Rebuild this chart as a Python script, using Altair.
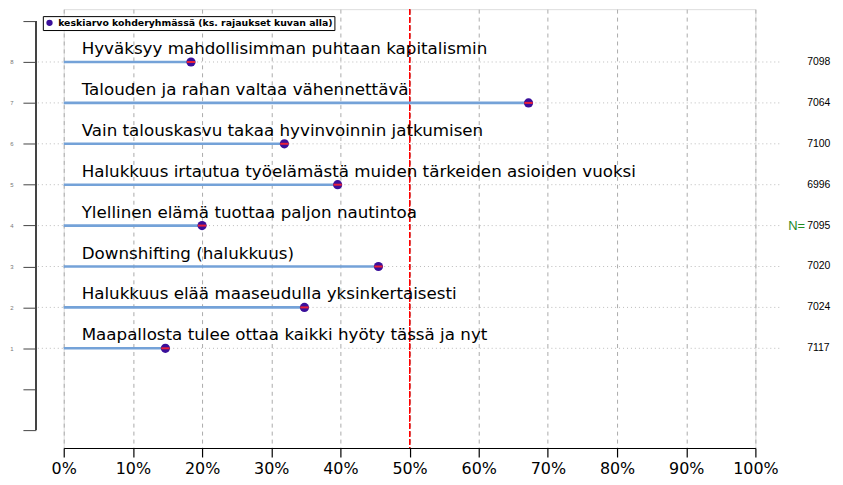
import altair as alt
import pandas as pd

labels = [
    "Hyväksyy mahdollisimman puhtaan kapitalismin",
    "Talouden ja rahan valtaa vähennettävä",
    "Vain talouskasvu takaa hyvinvoinnin jatkumisen",
    "Halukkuus irtautua työelämästä muiden tärkeiden asioiden vuoksi",
    "Ylellinen elämä tuottaa paljon nautintoa",
    "Downshifting (halukkuus)",
    "Halukkuus elää maaseudulla yksinkertaisesti",
    "Maapallosta tulee ottaa kaikki hyöty tässä ja nyt",
]
positions = [8, 7, 6, 5, 4, 3, 2, 1]
means = [0.184, 0.672, 0.319, 0.396, 0.200, 0.455, 0.348, 0.147]
ci_half = [0.006, 0.006, 0.006, 0.006, 0.006, 0.006, 0.006, 0.006]
n_values = [7098, 7064, 7100, 6996, 7095, 7020, 7024, 7117]
legend_label = "keskiarvo kohderyhmässä (ks. rajaukset kuvan alla)"
x_ticks = [i / 10 for i in range(11)]
y_ticks = list(range(-1, 10))

df = pd.DataFrame({
    "label": labels,
    "pos": positions,
    "mean": means,
    "lo": [m - c for m, c in zip(means, ci_half)],
    "hi": [m + c for m, c in zip(means, ci_half)],
    "n": [str(v) for v in n_values],
    "zero": [0.0] * len(means),
    "series": [legend_label] * len(means),
})

FONT = "Liberation Sans"
WIDE = "DejaVu Sans"
xscale = alt.Scale(domain=[0, 1], nice=False, zero=False)
yscale = alt.Scale(domain=[-1.438, 9.292], nice=False, zero=False)

base = alt.Chart(df)

x_axis = alt.Axis(
    values=x_ticks, format=".0%", grid=True, gridDash=[4, 4], gridColor="#aaaaaa",
    gridWidth=1, tickSize=9, tickColor="black", domainColor="black", labelFontSize=16,
    labelFont=WIDE, labelColor="black", labelPadding=4, title=None, domainWidth=1.2,
    tickWidth=1.2, labelFlush=False,
)
y_axis = alt.Axis(
    values=y_ticks, labelExpr="datum.value >= 1 && datum.value <= 8 ? datum.label : ''",
    grid=False, domain=False, tickSize=13, tickColor="#444444", offset=28,
    labelFontSize=6, labelColor="#777777", labelPadding=10, title=None, labelFont=FONT,
)

# dotted horizontal guides
guides = base.mark_rule(color="#bbbbbb", strokeDash=[1, 3], strokeWidth=1).encode(
    x=alt.value(-26), x2=alt.value(721),
    y=alt.Y("pos:Q", scale=yscale, axis=y_axis),
)

yline = base.mark_rule(color="#444444", strokeWidth=1.2).encode(
    x=alt.value(-28), y=alt.datum(9, scale=yscale), y2=alt.datum(-1)
)

xaxis_layer = base.mark_point(opacity=0).encode(
    x=alt.X("mean:Q", scale=xscale, axis=x_axis),
    y=alt.Y("pos:Q", scale=yscale),
)

redline = base.mark_rule(color="#ff0000", strokeDash=[6, 2], strokeWidth=1.1).encode(
    x=alt.datum(0.5, scale=xscale), y=alt.value(0), y2=alt.value(441)
)

bars = base.mark_rule(color="#74a2d8", strokeWidth=2.6).encode(
    x=alt.X("zero:Q", scale=xscale), x2="mean:Q", y=alt.Y("pos:Q", scale=yscale)
)

dots = base.mark_circle(size=85, opacity=1).encode(
    x=alt.X("mean:Q", scale=xscale),
    y=alt.Y("pos:Q", scale=yscale),
    color=alt.Color(
        "series:N",
        scale=alt.Scale(range=["#3a0f9a"]),
        legend=alt.Legend(
            title=None, orient="none", legendX=-21, legendY=7, strokeColor="black",
            padding=2, labelFontSize=9.4, labelFontWeight="bold", labelFont=WIDE,
            labelColor="black", symbolSize=40, symbolType="circle", cornerRadius=0,
            fillColor="white", labelLimit=400,
        ),
    ),
)

ci = base.mark_rule(color="#e8203a", strokeWidth=2).encode(
    x=alt.X("lo:Q", scale=xscale), x2="hi:Q", y=alt.Y("pos:Q", scale=yscale)
)

texts = base.mark_text(
    align="left", baseline="alphabetic", dy=-8, fontSize=16.8, font=WIDE, color="black"
).encode(
    x=alt.value(18), y=alt.Y("pos:Q", scale=yscale), text="label:N"
)

ntexts = base.mark_text(
    align="left", baseline="middle", fontSize=10.5, font=FONT, color="black"
).encode(
    x=alt.value(747), y=alt.Y("pos:Q", scale=yscale), text="n:N"
)

n_eq = alt.Chart(pd.DataFrame({"t": ["N="]})).mark_text(
    align="right", baseline="middle", fontSize=13, font=FONT, color="#1f8a1f"
).encode(
    x=alt.value(745), y=alt.datum(4, scale=yscale), text="t:N"
)

chart = alt.layer(
    xaxis_layer, guides, yline, redline, bars, dots, ci, texts, ntexts, n_eq
).properties(
    width=695, height=441,
    autosize=alt.AutoSizeParams(type="none"),
    padding={"left": 56, "top": 0, "right": 80, "bottom": 36},
).configure_view(stroke=None).configure(background="white")

chart.save("out.html", embed_options={"renderer": "svg", "actions": False})
